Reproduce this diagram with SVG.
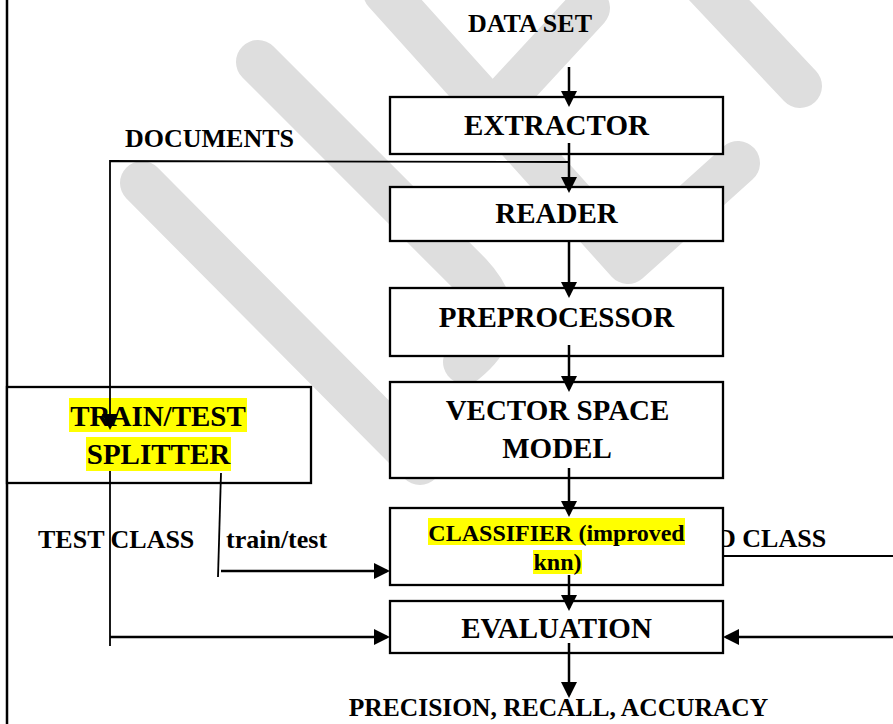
<svg xmlns="http://www.w3.org/2000/svg" width="893" height="724" viewBox="0 0 893 724">
<defs>
<marker id="ah" markerUnits="userSpaceOnUse" markerWidth="16" markerHeight="16" viewBox="0 0 16 16" refX="13" refY="8" orient="auto">
<path d="M0,0 L16,8 L0,16 z" fill="#000"/>
</marker>
<style>
.wm{fill:none;stroke:#dedede;stroke-width:44;stroke-linecap:round;stroke-linejoin:round}
.box{fill:#fff;stroke:#000;stroke-width:2.3}
.t{font-family:"Liberation Serif","Times New Roman",serif;font-weight:bold;fill:#000}
.b{font-size:29px;text-anchor:middle}
.l{font-size:26px}
.hl{fill:#ffff00}
.c{fill:none;stroke:#000;stroke-width:2.5}
.cn{fill:none;stroke:#000;stroke-width:1.8}
</style>
</defs>
<rect width="893" height="724" fill="#fff"/>
<g id="watermark">
<path class="wm" d="M385,-8 L628,262 L738,163"/>
<path class="wm" d="M492,112 L588,8"/>
<path class="wm" d="M705,-15 L800,86"/>
<path class="wm" d="M258,62 L470,274 Q515,322 465,362"/>
<path class="wm" d="M142,183 L420,463"/>
</g>
<g id="border">
<line x1="7" y1="0" x2="7" y2="724" stroke="#000" stroke-width="2.5"/>
</g>
<text class="t l" x="717" y="547">D CLASS</text>
<g id="extractor">
<rect class="box" x="390" y="97" width="333" height="57"/>
<text class="t b" x="556.5" y="135">EXTRACTOR</text>
</g>
<g id="reader">
<rect class="box" x="390" y="187" width="333" height="54"/>
<text class="t b" x="556.5" y="223">READER</text>
</g>
<g id="preprocessor">
<rect class="box" x="390" y="288" width="333" height="68"/>
<text class="t b" x="556.5" y="327">PREPROCESSOR</text>
</g>
<g id="vsm">
<rect class="box" x="390" y="382" width="333" height="96"/>
<text class="t b" x="557.5" y="420">VECTOR SPACE</text>
<text class="t b" x="557" y="458">MODEL</text>
</g>
<g id="classifier">
<rect class="box" x="390" y="508" width="333" height="77"/>
<rect class="hl" x="428" y="518" width="257" height="27"/>
<rect class="hl" x="533" y="550" width="49" height="24"/>
<text class="t" x="556.5" y="541" font-size="24" text-anchor="middle">CLASSIFIER (improved</text>
<text class="t" x="557.5" y="570" font-size="24" text-anchor="middle">knn)</text>
</g>
<g id="evaluation">
<rect class="box" x="390" y="601" width="333" height="52"/>
<text class="t b" x="556.5" y="638">EVALUATION</text>
</g>
<g id="splitter">
<rect class="box" x="7" y="387" width="304" height="96"/>
<rect class="hl" x="69" y="398" width="178" height="34"/>
<rect class="hl" x="86" y="437" width="145" height="34"/>
<text class="t b" x="158" y="426">TRAIN/TEST</text>
<text class="t b" x="158.5" y="464">SPLITTER</text>
</g>
<g id="connectors">
<path class="c" d="M569,67 V104" marker-end="url(#ah)"/>
<path class="c" d="M569,143 V190" marker-end="url(#ah)"/>
<path class="cn" d="M569,162 L110,161 V427" marker-end="url(#ah)"/>
<path class="c" d="M569,241 V295" marker-end="url(#ah)"/>
<path class="c" d="M569,345 V389" marker-end="url(#ah)"/>
<path class="c" d="M569,468 V514" marker-end="url(#ah)"/>
<path class="c" d="M569,575 V608" marker-end="url(#ah)"/>
<path class="c" d="M569,643 V695" marker-end="url(#ah)"/>
<path class="cn" d="M110,471 V646"/>
<path class="c" d="M110,637 H387" marker-end="url(#ah)"/>
<path class="cn" d="M221,473 L218,577"/>
<path class="c" d="M221,571 H387" marker-end="url(#ah)"/>
<path class="cn" d="M723,556 H893"/>
<path class="c" d="M893,637 H726" marker-end="url(#ah)"/>
</g>
<g id="labels">
<text class="t l" x="530" y="32" text-anchor="middle">DATA SET</text>
<text class="t l" x="125" y="147">DOCUMENTS</text>
<text class="t l" x="38" y="548">TEST CLASS</text>
<text class="t l" x="226" y="548">train/test</text>
<text class="t" x="558.5" y="716" font-size="25.5" text-anchor="middle">PRECISION, RECALL, ACCURACY</text>
</g>
</svg>
